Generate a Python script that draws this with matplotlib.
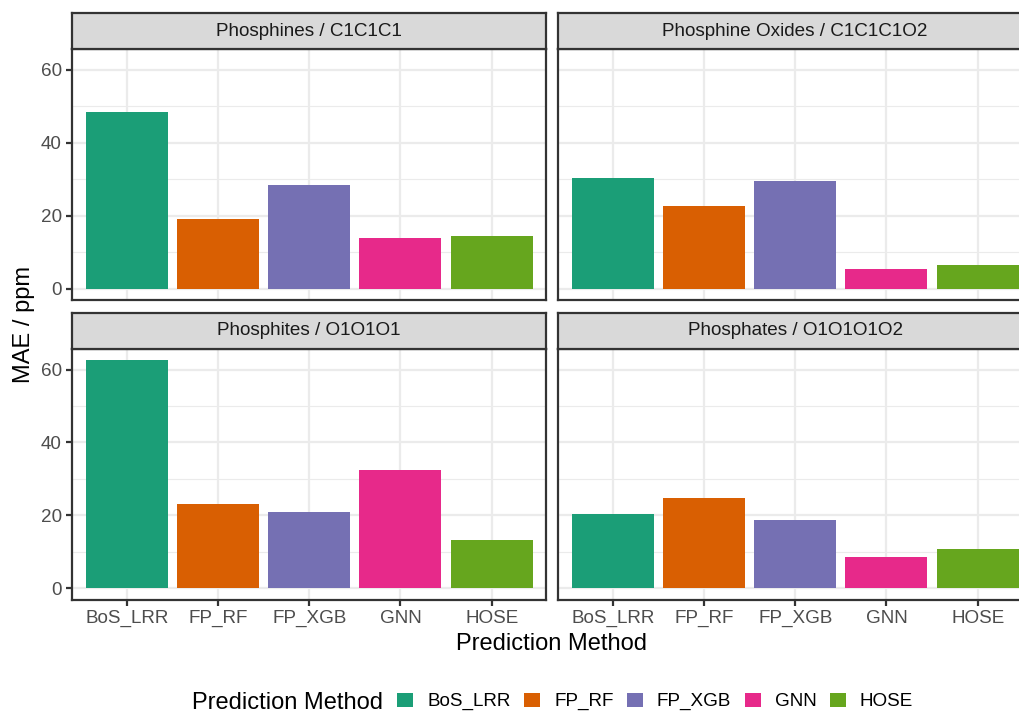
import numpy as np
import matplotlib
matplotlib.use("Agg")
import matplotlib.pyplot as plt
from matplotlib.patches import Patch
from matplotlib.ticker import MultipleLocator

plt.rcParams["font.family"] = ["Liberation Sans", "DejaVu Sans"]

# data (MAE in ppm)
methods = ["BoS_LRR", "FP_RF", "FP_XGB", "GNN", "HOSE"]
facets = ["Phosphines / C1C1C1", "Phosphine Oxides / C1C1C1O2",
          "Phosphites / O1O1O1", "Phosphates / O1O1O1O2"]
phosphines = [48.3, 19.1, 28.4, 13.9, 14.5]
phosphine_oxides = [30.3, 22.6, 29.5, 5.5, 6.5]
phosphites = [62.5, 23.1, 20.9, 32.4, 13.3]
phosphates = [20.5, 24.8, 18.8, 8.5, 10.9]
colors = ["#1B9E77", "#D95F02", "#7570B3", "#E7298A", "#66A61E"]

W, H = 1019, 713
fig = plt.figure(figsize=(W / 100, H / 100), dpi=100)
fig.patch.set_facecolor("white")

dark = "#333333"
grid = "#EBEBEB"
lw = 1.6
small = 13.6
big = 17

# panel boxes in pixels
panel_w = 474.4
lefts = [72, 558]
tops = [49.3, 349]
panel_h = 250.7
strip_h = 36.5

all_vals = [phosphines, phosphine_oxides, phosphites, phosphates]
ymax = max(max(v) for v in all_vals)
x = np.arange(len(methods))

for i, (name, vals) in enumerate(zip(facets, all_vals)):
    row, col = divmod(i, 2)
    l, t = lefts[col], tops[row]
    ax = fig.add_axes([l / W, 1 - (t + panel_h) / H, panel_w / W, panel_h / H])
    ax.bar(x, vals, width=0.9, color=colors, zorder=2)
    ax.set_xlim(-0.6, len(methods) - 0.4)
    ax.set_ylim(-0.05 * ymax, 1.05 * ymax)
    ax.yaxis.set_major_locator(MultipleLocator(20))
    ax.yaxis.set_minor_locator(MultipleLocator(10))
    ax.set_xticks(x)
    ax.set_xticklabels(methods)
    ax.set_axisbelow(True)
    ax.grid(which="major", color=grid, linewidth=1.6)
    ax.grid(which="minor", axis="y", color=grid, linewidth=0.8)
    for sp in ax.spines.values():
        sp.set_color(dark)
        sp.set_linewidth(lw)
    ax.tick_params(which="major", length=4.1, width=1.6, color=dark,
                   labelsize=small, labelcolor="#4D4D4D", pad=3.3)
    ax.tick_params(which="minor", length=0)
    if row == 0:
        ax.tick_params(axis="x", bottom=False, labelbottom=False)
    if col == 1:
        ax.tick_params(axis="y", left=False, labelleft=False)

    # facet strip
    sax = fig.add_axes([l / W, 1 - t / H, panel_w / W, strip_h / H])
    sax.set_facecolor("#D9D9D9")
    sax.set_xticks([])
    sax.set_yticks([])
    for sp in sax.spines.values():
        sp.set_color(dark)
        sp.set_linewidth(lw)
    sax.text(0.5, 0.5, name, ha="center", va="center", fontsize=small,
             color="#1A1A1A", transform=sax.transAxes)

fig.text(24 / W, 1 - 324.6 / H, "MAE / ppm", rotation=90, ha="center",
         va="center", fontsize=big, color="black")
fig.text(552 / W, 1 - 644 / H, "Prediction Method", ha="center",
         va="center", fontsize=big, color="black")

# legend at the bottom, title on the left like ggplot
fig.text(192 / W, 1 - 703 / H, "Prediction Method", ha="left",
         va="center", fontsize=big, color="black")
handles = [Patch(facecolor=c, edgecolor="none") for c in colors]
fig.legend(handles, methods, loc="center left",
           bbox_to_anchor=(397 / W, 1 - 701.5 / H), ncol=5, frameon=False,
           fontsize=small, handlelength=0.85, handleheight=0.8,
           handletextpad=0.75, columnspacing=0.7, borderpad=0,
           borderaxespad=0)

fig.savefig("out.png", dpi=100)
